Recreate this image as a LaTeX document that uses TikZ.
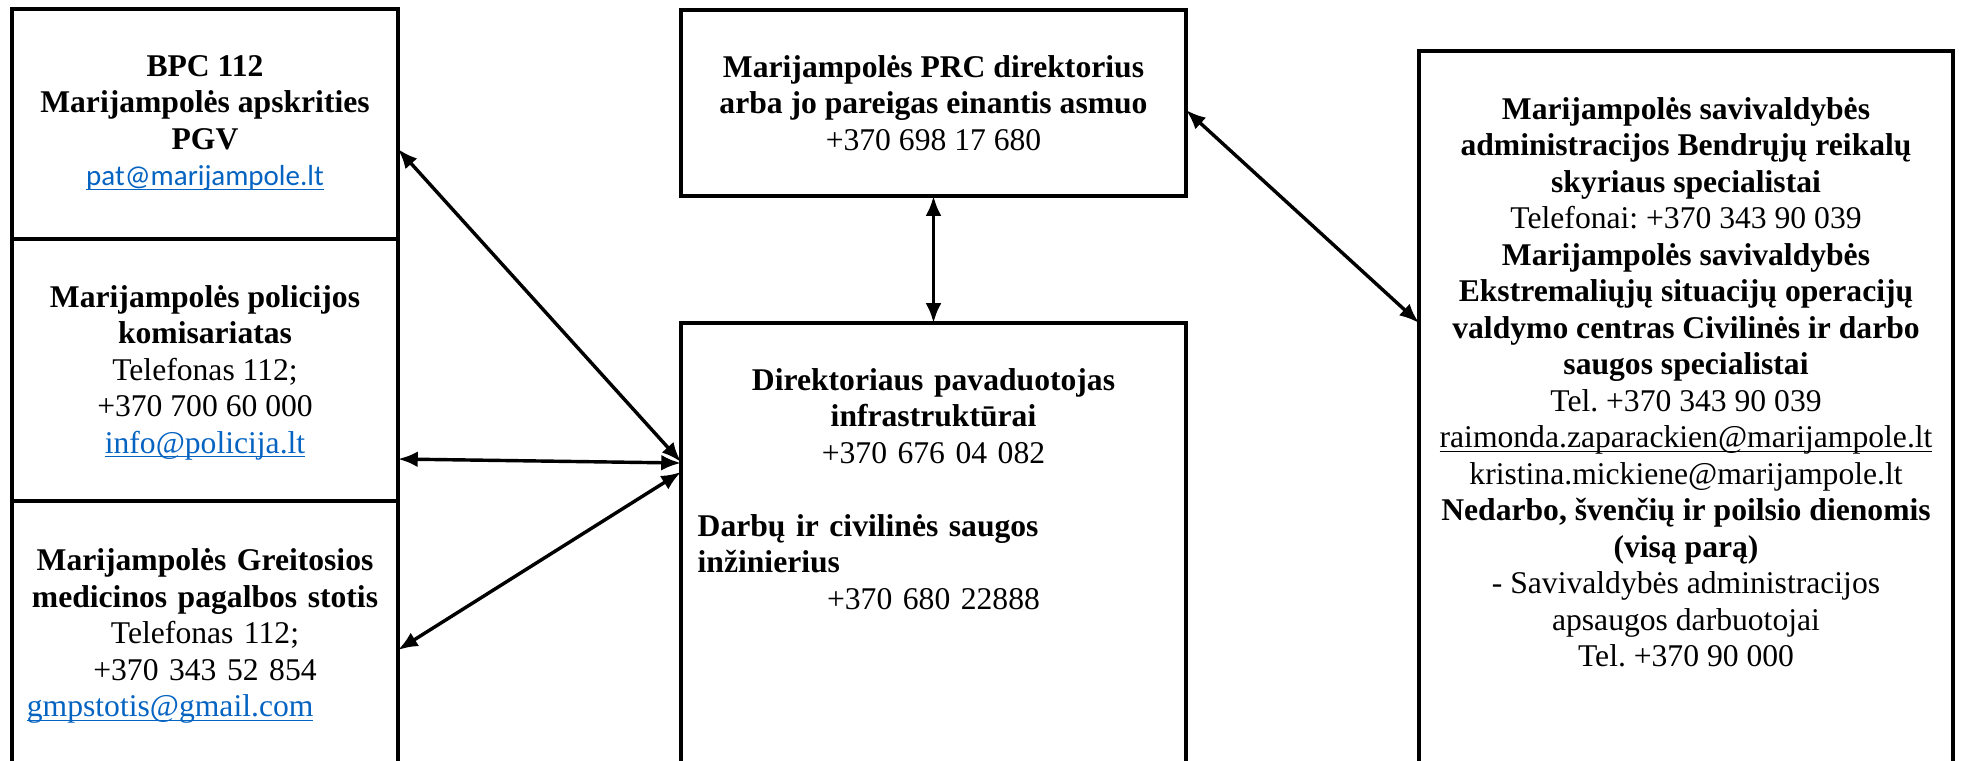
\documentclass[tikz,border=0pt]{standalone}
\usepackage{fontspec}
\setmainfont{Liberation Serif}
\newfontfamily\calibri{Carlito}
\usetikzlibrary{arrows.meta, positioning, fit, calc}
\definecolor{linkblue}{RGB}{5,99,193}
\newcommand{\ulink}[1]{\underline{\smash{#1}}}
\frenchspacing
\tikzset{%
	box/.style={draw, rectangle, line width=1.2pt, inner sep=0mm, outer sep=0mm},
	txt/.style={align=center, inner sep=0mm, font=\fontsize{12pt}{13.85pt}\selectfont},
	link/.style={{Latex[length=7.5pt,width=6pt]}-{Latex[length=7.5pt,width=6pt]}, line width=1.3pt}
}

\begin{document}
\begin{tikzpicture}[x=0.01333cm, y=-0.01333cm, node distance=0.61cm]
	\useasboundingbox (0,0) rectangle (1961,760);
	\clip (0,0) rectangle (1961,760);
	%boxes
	\node [box, fit={(12,9) (398,239)}]     (B) {};
	\node [box, fit={(12,239) (398,501)}]   (P) {};
	\node [box, fit={(12,501) (398,800)}]   (G) {};
	\node [box, fit={(681,10) (1186,196)}]  (D) {};
	\node [box, fit={(681,323) (1186,800)}] (V) {};
	\node [box, fit={(1419,51) (1953,800)}] (S) {};

	%texts
	\node [txt, below=of B.north] (Bt) {\textbf{BPC 112}\\ \textbf{Marijampolės apskrities}\\ \textbf{PGV}\\
		{\calibri\fontsize{11pt}{13.85pt}\selectfont\color{linkblue}\ulink{pat@marijampole.lt}}};
	\node [txt, below=of P.north] (Pt) {\textbf{Marijampolės policijos}\\ \textbf{komisariatas}\\ Telefonas 112;\\
		+370 700 60 000\\ {\color{linkblue}\ulink{info@policija.lt}}};
	\node [txt, text width=4.75cm, below=0.63cm of G.north] (Gt) {\textbf{Marijampolės Greitosios}\\
		\textbf{medicinos pagalbos stotis}\\ Telefonas 112;\\ +370 343 52 854\\
		{\color{linkblue}\ulink{gmpstotis@gmail.com}}\hfill\mbox{}};
	\node [txt, below=0.6cm of D.north] (Dt) {\textbf{Marijampolės PRC direktorius}\\
		\textbf{arba jo pareigas einantis asmuo}\\ +370 698 17 680};
	\node [txt, text width=6.29cm, below=0.6cm of V.north] (Vt) {\textbf{Direktoriaus pavaduotojas}\\
		\textbf{infrastruktūrai}\\ +370 676 04 082\\ \mbox{}\\
		\textbf{Darbų ir civilinės saugos}\hfill\mbox{}\\ \textbf{inžinierius}\hfill\mbox{}\\ +370 680 22888};
	\node [txt, below=of S.north] (St) {\textbf{Marijampolės savivaldybės}\\
		\textbf{administracijos Bendrųjų reikalų}\\ \textbf{skyriaus specialistai}\\
		Telefonai: +370 343 90 039\\ \textbf{Marijampolės savivaldybės}\\
		\textbf{Ekstremaliųjų situacijų operacijų}\\ \textbf{valdymo centras Civilinės ir darbo}\\
		\textbf{saugos specialistai}\\ Tel. +370 343 90 039\\
		\ulink{raimonda.zaparackien@marijampole.lt}\\ kristina.mickiene@marijampole.lt\\
		\textbf{Nedarbo, švenčių ir poilsio dienomis}\\ \textbf{(visą parą)}\\
		- Savivaldybės administracijos\\ apsaugos darbuotojai\\ Tel. +370 90 000};

	%links
	\draw [link] ($(B.north east)+(0,140)$) -- ($(V.north west)+(0,139)$);
	\draw [link] ($(P.north east)+(0,220)$) -- ($(V.north west)+(0,140)$);
	\draw [link] ($(G.north east)+(0,149)$) -- ($(V.north west)+(0,149)$);
	\draw [link] (D.south) -- (V.north);
	\draw [link] ($(D.north east)+(0,100)$) -- ($(S.north west)+(0,272)$);
\end{tikzpicture}
\end{document}
